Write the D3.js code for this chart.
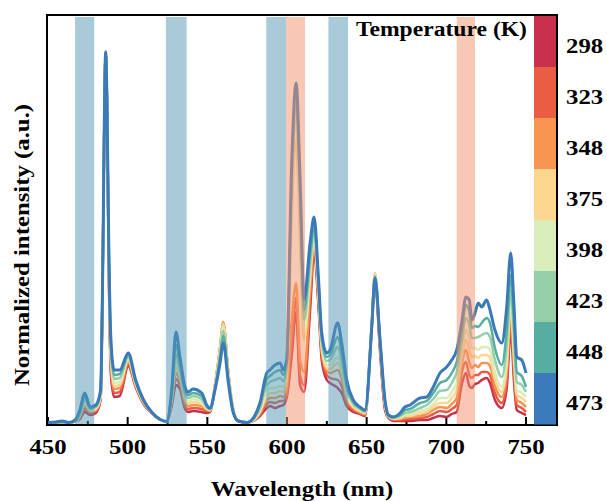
<!DOCTYPE html>
<html>
<head>
<meta charset="utf-8">
<script src="https://cdn.jsdelivr.net/npm/d3@7"></script>
<style>
  body { margin: 0; background: #fff; }
  text { font-family: "Liberation Serif", "Times New Roman", serif; font-weight: bold; fill: #000; }
</style>
</head>
<body>
<script>
// wavelength grid (nm)
var wavelengths = [
  450, 455, 459, 463, 467, 470, 473, 476.5, 480, 483,
  484.5, 485.5, 486.2, 487, 488, 489.5, 491.5, 495, 500.4, 505,
  510, 515, 520, 524.5, 527.6, 530.3, 532.8, 536, 538, 541,
  546.5, 549.6, 551.7, 554.8, 558, 560, 563.2, 566.3, 569.4, 575,
  580, 583, 587.3, 589.3, 592.5, 595.7, 597.7, 599.8, 603, 605.7,
  608.2, 610.7, 614.5, 617, 619.7, 621.8, 625, 627, 631.8, 634.3,
  637.5, 641.6, 645.8, 649, 653.2, 655.2, 658.4, 661.5, 663.6, 666.7,
  671, 674, 677.2, 683.5, 687.7, 691.8, 696, 700.2, 703.4, 706.5,
  709.6, 712.3, 714.4, 716, 718, 720, 722.2, 725.3, 727.4, 730.5,
  734.8, 737.9, 740.4, 742.5, 744.2, 747.3, 750
];

// intensity (a.u.) for each temperature
var s298 = [
  2.5, 2.5, 3, 2.5, 3.5, 6, 13, 10, 12, 25,
  175, 325, 373, 325, 173, 50, 28, 29, 59, 38,
  21, 12, 5.5, 3.5, 19, 40, 36, 16, 13, 14,
  13, 12, 13, 38, 75, 99, 49, 14, 4, 2.5,
  5, 9, 17, 19, 17, 19, 20, 27, 70, 113,
  40, 33, 115, 173, 120, 65, 45, 42, 37, 32,
  19, 13, 11, 9, 97, 145, 73, 15, 7, 4,
  4, 4, 4, 5, 5, 7, 9, 8, 11, 13,
  40, 52, 39, 37, 41, 42, 45, 47, 42, 25,
  17, 37, 95, 43, 15, 12, 10
];
var s323 = [
  2.5, 2.5, 3, 2.5, 3.5, 7, 16, 12, 14, 26,
  175, 325, 373, 325, 177, 55, 32, 33, 61, 39,
  22, 12, 5.5, 3.5, 21, 46, 40, 19, 16, 17,
  16, 14, 14, 39, 77, 102, 51, 15, 4, 2.5,
  5, 10, 21, 23, 22, 24, 24, 31, 85, 127,
  50, 40, 125, 178, 125, 70, 50, 47, 45, 39,
  22, 15, 12, 10, 100, 149, 77, 18, 8, 5,
  5, 6, 6, 7, 8, 11, 14, 13, 16, 20,
  52, 63, 50, 47, 50, 50, 53, 53, 50, 32,
  22, 45, 105, 52, 20, 17, 13
];
var s348 = [
  2.5, 2.5, 3, 2.5, 3.5, 8, 19, 13, 15, 27,
  175, 325, 373, 325, 180, 60, 36, 37, 63, 40,
  22, 12, 5.5, 3.5, 23, 52, 44, 22, 19, 20,
  19, 15, 14, 40, 78, 103, 52, 15, 4, 2.5,
  6, 12, 25, 27, 27, 29, 28, 37, 105, 142,
  65, 53, 135, 182, 129, 74, 54, 52, 55, 47,
  26, 17, 13, 11, 102, 152, 80, 20, 8, 6,
  6, 7, 8, 9, 11, 15, 18, 17, 21, 27,
  60, 75, 63, 57, 60, 58, 62, 62, 59, 39,
  28, 53, 115, 60, 25, 22, 18
];
var s375 = [
  2.5, 2.5, 3, 2.5, 3.5, 9, 21, 14, 16, 28,
  175, 325, 373, 325, 183, 65, 39, 40, 65, 41,
  23, 12.5, 5.5, 3.5, 25, 58, 48, 25, 22, 23,
  21, 16, 15, 39, 76, 101, 51, 15, 4, 2.5,
  6, 13, 29, 32, 32, 34, 33, 45, 210, 285,
  180, 85, 147, 187, 132, 77, 57, 56, 62, 53,
  29, 18, 14, 12, 102, 152, 82, 21, 9, 6,
  7, 9, 9, 12, 13, 18, 22, 22, 27, 35,
  67, 85, 75, 68, 69, 67, 70, 70, 67, 46,
  33, 60, 120, 67, 30, 27, 23
];
var s398 = [
  2.5, 2.5, 3, 2.5, 3.5, 10, 23, 15, 17, 29,
  175, 325, 373, 325, 186, 70, 42, 43, 67, 42,
  23, 12.5, 5.5, 3.5, 27, 64, 52, 28, 24, 26,
  23, 17, 15, 38, 73, 98, 49, 15, 4, 2.5,
  7, 15, 34, 37, 37, 39, 38, 50, 225, 305,
  200, 95, 153, 190, 135, 80, 60, 60, 68, 58,
  32, 19, 15, 12, 101, 150, 83, 22, 9, 7,
  8, 10, 11, 14, 16, 21, 27, 27, 33, 43,
  74, 95, 87, 77, 77, 75, 78, 78, 75, 53,
  38, 67, 125, 75, 35, 32, 28
];
var s423 = [
  2.5, 2.5, 3, 2.5, 3.5, 11, 26, 16, 18, 31,
  175, 325, 373, 325, 189, 75, 46, 47, 68, 43,
  24, 13, 5.5, 3.5, 29, 71, 56, 31, 27, 29,
  26, 18, 16, 37, 70, 94, 47, 14, 4, 2.5,
  8, 17, 40, 43, 45, 47, 44, 55, 240, 320,
  220, 105, 160, 195, 139, 84, 64, 65, 78, 65,
  36, 21, 16, 13, 100, 149, 84, 23, 9, 7,
  9, 12, 13, 17, 20, 26, 34, 35, 42, 53,
  82, 107, 100, 87, 87, 88, 90, 92, 88, 65,
  48, 80, 135, 87, 43, 40, 33
];
var s448 = [
  2.5, 2.5, 3, 2.5, 4, 13, 29, 17, 19, 33,
  175, 325, 373, 325, 192, 80, 50, 51, 70, 44,
  24, 13, 6, 3.5, 32, 80, 61, 34, 30, 32,
  29, 19, 16, 36, 67, 89, 45, 13, 4, 2.5,
  9, 20, 46, 49, 53, 55, 50, 61, 255, 333,
  235, 115, 170, 200, 143, 88, 68, 70, 88, 73,
  40, 23, 17, 14, 99, 148, 85, 24, 10, 8,
  10, 15, 16, 22, 24, 32, 42, 45, 52, 63,
  92, 120, 113, 97, 99, 98, 102, 107, 102, 77,
  60, 95, 150, 100, 53, 49, 38
];
var s473 = [
  2.5, 3, 4, 2.5, 5, 15, 32, 18, 20, 35,
  175, 325, 373, 325, 195, 85, 55, 55, 72, 45,
  25, 13, 6, 3.5, 35, 93, 68, 38, 33, 36,
  32, 20, 17, 35, 62, 82, 42, 12, 4, 2.5,
  10, 22, 52, 55, 60, 62, 55, 65, 265, 342,
  248, 125, 182, 208, 148, 92, 72, 75, 102, 82,
  45, 25, 18, 15, 98, 147, 85, 25, 10, 8,
  12, 18, 20, 27, 28, 38, 52, 58, 65, 75,
  102, 128, 125, 105, 112, 122, 118, 125, 115, 95,
  82, 118, 172, 118, 68, 65, 52
];

var temps = ['298', '323', '348', '375', '398', '423', '448', '473'];
var series = [s298, s323, s348, s375, s398, s423, s448, s473];
var colors = ['#c9304b', '#e95e42', '#f7944f', '#fdd68f', '#d9edbb', '#94cfa8', '#56aea3', '#3a7ab9'];

// highlighted wavelength ranges
var blueBands = [[467, 479], [524, 537], [587, 599.4], [626, 638.3]];
var orangeBands = [[599.4, 611.3], [706.5, 718]];

var majorTicks = [450, 500, 550, 600, 650, 700, 750];
var minorTicks = [475, 525, 575, 625, 675, 725];

var svg = d3.select('body').append('svg')
    .attr('width', 607)
    .attr('height', 501);

var x = d3.scaleLinear().domain([450, 750]).range([48, 526]);
var y = d3.scaleLinear().domain([0, 410]).range([425, 15]);

// black frame around plot and colour bar, drawn first as a solid block
svg.append('rect')
    .attr('x', 46)
    .attr('y', 14)
    .attr('width', 512)
    .attr('height', 412)
    .attr('fill', 'black');
svg.append('rect')
    .attr('x', 48)
    .attr('y', 16)
    .attr('width', 508)
    .attr('height', 408)
    .attr('fill', 'white');

// inward ticks
svg.append('g').selectAll('line')
    .data(majorTicks)
    .enter().append('line')
    .attr('x1', function (d) { return x(d); })
    .attr('x2', function (d) { return x(d); })
    .attr('y1', y(0))
    .attr('y2', y(0) - 8)
    .attr('stroke', 'black')
    .attr('stroke-width', 2);

svg.append('g').selectAll('line')
    .data(minorTicks)
    .enter().append('line')
    .attr('x1', function (d) { return x(d); })
    .attr('x2', function (d) { return x(d); })
    .attr('y1', y(0))
    .attr('y2', y(0) - 4)
    .attr('stroke', 'black')
    .attr('stroke-width', 2);

var line = d3.line()
    .x(function (d, i) { return x(wavelengths[i]); })
    .y(function (d) { return y(d); })
    .curve(d3.curveMonotoneX);

// spectra, coolest first so 473 K ends on top
svg.append('g').selectAll('path')
    .data(series)
    .enter().append('path')
    .attr('d', line)
    .attr('fill', 'none')
    .attr('stroke', function (d, i) { return colors[i]; })
    .attr('stroke-width', function (d, i) { return i == 7 ? 3 : 2.5; })
    .attr('stroke-linejoin', 'round');

// translucent bands over the curves
svg.append('g').selectAll('rect')
    .data(blueBands)
    .enter().append('rect')
    .attr('x', function (d) { return x(d[0]); })
    .attr('width', function (d) { return x(d[1]) - x(d[0]); })
    .attr('y', y(408))
    .attr('height', y(1) - y(408))
    .attr('fill', '#5296b3')
    .attr('opacity', 0.5);

svg.append('g').selectAll('rect')
    .data(orangeBands)
    .enter().append('rect')
    .attr('x', function (d) { return x(d[0]); })
    .attr('width', function (d) { return x(d[1]) - x(d[0]); })
    .attr('y', y(408))
    .attr('height', y(1) - y(408))
    .attr('fill', '#f3926b')
    .attr('opacity', 0.5);

// colour bar inside the frame
var cb = d3.scaleBand().domain(temps).range([16, 424]);

svg.append('g').selectAll('rect')
    .data(temps)
    .enter().append('rect')
    .attr('x', 534)
    .attr('y', function (d) { return cb(d); })
    .attr('width', 22)
    .attr('height', cb.bandwidth() + 0.5)
    .attr('fill', function (d, i) { return colors[i]; });

svg.append('g').selectAll('text')
    .data(temps)
    .enter().append('text')
    .attr('class', 'wide')
    .attr('x', 566)
    .attr('y', function (d) { return cb(d) + cb.bandwidth() / 2 + 4; })
    .attr('dy', '0.35em')
    .attr('font-size', 21)
    .text(function (d) { return d; });

svg.append('g').selectAll('text')
    .data(majorTicks)
    .enter().append('text')
    .attr('class', 'wide')
    .attr('x', function (d) { return x(d); })
    .attr('y', 454)
    .attr('text-anchor', 'middle')
    .attr('font-size', 21)
    .text(function (d) { return d; });

svg.append('text')
    .attr('class', 'wide')
    .attr('x', 527)
    .attr('y', 36)
    .attr('text-anchor', 'end')
    .attr('font-size', 20)
    .text('Temperature (K)');

svg.append('text')
    .attr('class', 'wide')
    .attr('x', 302)
    .attr('y', 496)
    .attr('text-anchor', 'middle')
    .attr('font-size', 21)
    .text('Wavelength (nm)');

svg.append('text')
    .attr('class', 'wide')
    .attr('transform', 'translate(29,245) rotate(-90)')
    .attr('text-anchor', 'middle')
    .attr('font-size', 21)
    .text('Normalized intensity (a.u.)');

// the lettering in the figure is set wider than plain Times
svg.selectAll('text.wide').each(function () {
    var w = this.getComputedTextLength();
    d3.select(this)
        .attr('textLength', w * 1.18)
        .attr('lengthAdjust', 'spacingAndGlyphs');
});
</script>
</body>
</html>
